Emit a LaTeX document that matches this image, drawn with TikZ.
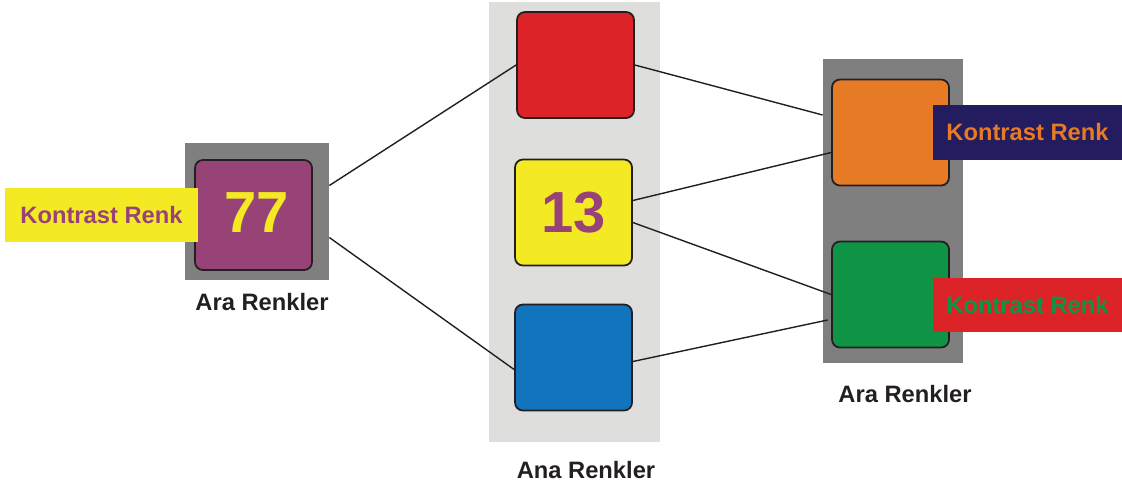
\documentclass[tikz,border=0pt]{standalone}
\usepackage{fontspec}
\setmainfont{Liberation Sans}
\usetikzlibrary{positioning,calc}
\definecolor{panelgray}{HTML}{807F80}
\definecolor{palegray}{HTML}{DEDEDD}
\definecolor{plum}{HTML}{984378}
\definecolor{lemon}{HTML}{F4EA23}
\definecolor{brick}{HTML}{DC2428}
\definecolor{sky}{HTML}{1174BC}
\definecolor{tangerine}{HTML}{E67A25}
\definecolor{leaf}{HTML}{0E9444}
\definecolor{navy}{HTML}{231C5E}
\definecolor{ink}{HTML}{231F20}
\newcommand*{\lbl}[1]{\fontsize{13.5}{16}\selectfont\bfseries #1}
\newcommand*{\bignum}[1]{\fontsize{33}{38}\selectfont\bfseries #1}
\tikzset{
  swatch/.style={draw=ink,line width=1pt,rounded corners=4.5pt,inner sep=0pt,
                 minimum width=2.34cm,minimum height=2.12cm},
  panel/.style={inner sep=0pt},
  tag/.style={inner sep=0pt,minimum width=3.8cm,minimum height=1.09cm},
  link/.style={line width=0.8pt,ink}
}

\begin{document}
\begin{tikzpicture}[x=0.02cm,y=-0.02cm]
\useasboundingbox (0,0) rectangle (1122,488);
% Gray backgrounds of the three groups
\node [panel,fill=panelgray,minimum width=2.88cm,minimum height=2.74cm] (leftpanel) at (257,211.5) {};
\node [panel,fill=palegray,minimum width=3.42cm,minimum height=8.8cm] (midpanel) at (574.5,222) {};
\node [panel,fill=panelgray,minimum width=2.8cm,minimum height=6.08cm] (rightpanel) at (893,211) {};
% Left group
\node [swatch,fill=plum,minimum height=2.2cm] (purple) at (253.5,215) {};
\node [text=lemon] at (257,213) {\bignum{77}};
\node [tag,fill=lemon,text=plum,minimum width=3.86cm] (lefttag) at (101.5,215) {\lbl{Kontrast Renk}};
\node [text=ink] (leftname) at (262,302) {\lbl{Ara Renkler}};
% Middle group
\node [swatch,fill=brick] (redbox) at (575.5,65) {};
\node [swatch,fill=lemon] (yellowbox) at (573.5,212.5) {\textcolor{plum}{\bignum{13}}};
\node [swatch,fill=sky] (bluebox) at (573.5,357.5) {};
\node [text=ink] (midname) at (586,470) {\lbl{Ana Renkler}};
% Right group
\node [swatch,fill=tangerine] (orangebox) at (890.5,132.5) {};
\node [swatch,fill=leaf] (greenbox) at (890.5,294.5) {};
\node [tag,fill=navy,text=tangerine] (toptag) at (1027.5,132.5) {\lbl{Kontrast Renk}};
\node [tag,fill=brick,text=leaf] (bottag) at (1027.5,305) {\lbl{Kontrast Renk}};
\node [text=ink] (rightname) at (905,394) {\lbl{Ara Renkler}};
% Connectors
\draw [link] ($(leftpanel.east)+(0,-26)$) -- (redbox.west);
\draw [link] ($(leftpanel.east)+(0,26)$) -- ($(bluebox.west)+(0,12)$);
\draw [link] (redbox.east) -- ($(rightpanel.west)+(0,-96)$);
\draw [link] ($(yellowbox.east)+(0,-12)$) -- ($(orangebox.west)+(0,20)$);
\draw [link] ($(yellowbox.east)+(0,10)$) -- (greenbox.west);
\draw [link] ($(bluebox.east)+(0,4)$) -- ($(rightpanel.west)+(5,109)$);
\end{tikzpicture}
\end{document}
